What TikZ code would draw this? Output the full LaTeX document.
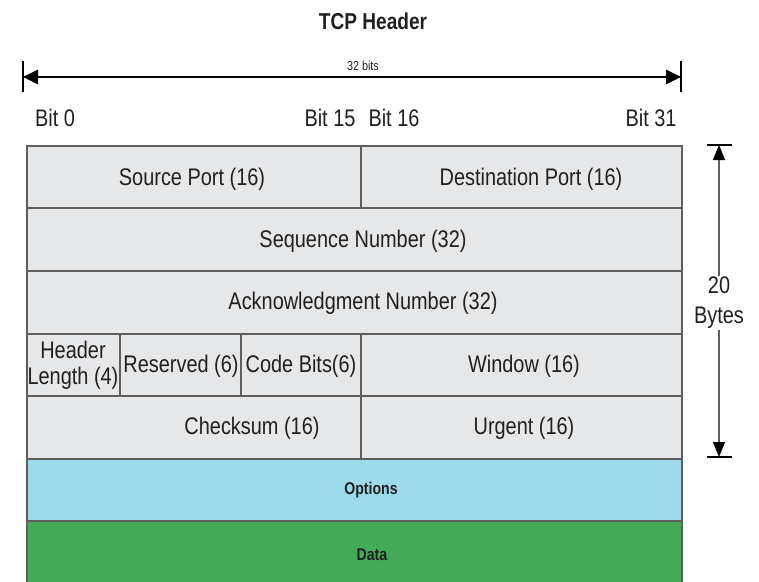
\documentclass[tikz,border=0pt]{standalone}
\usepackage{fontspec}
\setmainfont{Liberation Sans}[FakeStretch=0.83]
\usetikzlibrary{arrows.meta}

\definecolor{cellgray}{HTML}{E6E7E9}
\definecolor{gridline}{HTML}{5E5E5E}
\definecolor{optblue}{HTML}{9DDAEA}
\definecolor{datagreen}{HTML}{44AA58}
\definecolor{ink}{HTML}{202020}

\begin{document}
\begin{tikzpicture}[x=1pt,y=-1pt,
  cell/.style={draw=gridline, line width=1.4pt, fill=cellgray},
  optcell/.style={cell, fill=optblue},
  datacell/.style={cell, fill=datagreen},
  field/.style={text=ink, inner sep=0pt, align=center,
    font=\fontsize{24}{27}\selectfont},
  bitlbl/.style={field},
  smallbold/.style={text=ink, inner sep=0pt, font=\bfseries\fontsize{17}{19}\selectfont},
  tick/.style={line width=2.5pt, draw=black},
  widthtip/.style={{Triangle[length=15pt,width=14pt,color=black]}-{Triangle[length=15pt,width=14pt,color=black]}},
  heighttip/.style={{Triangle[length=15pt,width=12pt,color=black]}-{Triangle[length=15pt,width=12pt,color=black]}}
]
\useasboundingbox (0,0) rectangle (759,581);

% title
\node[text=ink, inner sep=0pt, font=\bfseries\fontsize{23}{26}\selectfont] (title) at (373,21) {TCP Header};

% 32-bit width marker
\coordinate (wL) at (23,77);
\coordinate (wR) at (681,77);
\draw[tick] ([yshift=-15pt]wL) -- ([yshift=16pt]wL);
\draw[tick] ([yshift=-15pt]wR) -- ([yshift=16pt]wR);
\draw[widthtip, line width=2.6pt, draw=black] (wL) -- (wR);
\node[text=ink, inner sep=0pt, font=\fontsize{13}{15}\selectfont] (bits) at (363,66) {32 bits};

% bit positions
\node[bitlbl] (bit0)  at (55,118)  {Bit 0};
\node[bitlbl] (bit15) at (330,118) {Bit 15};
\node[bitlbl] (bit16) at (394,118) {Bit 16};
\node[bitlbl] (bit31) at (651,118) {Bit 31};

% header rows
\path[cell] (27,146) rectangle (361,208);
\path[cell] (361,146) rectangle (682,208);
\path[cell] (27,208) rectangle (682,271);
\path[cell] (27,271) rectangle (682,334);
\path[cell] (27,334) rectangle (120,396);
\path[cell] (120,334) rectangle (241,396);
\path[cell] (241,334) rectangle (361,396);
\path[cell] (361,334) rectangle (682,396);
\path[cell] (27,396) rectangle (361,459);
\path[cell] (361,396) rectangle (682,459);
\path[optcell] (27,459) rectangle (682,521);
\path[datacell] (27,521) rectangle (682,585);

\node[field] (srcport) at (192,179) {Source Port (16)};
\node[field] (dstport) at (531,179) {Destination Port (16)};
\node[field] (seqnum)  at (363,241) {Sequence Number (32)};
\node[field] (acknum)  at (363,303) {Acknowledgment Number (32)};
\node[field, font=\fontsize{24}{26}\selectfont] (hlen) at (73,365) {Header\\Length (4)};
\node[field] (resv)    at (181,366) {Reserved (6)};
\node[field] (codebits) at (301,366) {Code Bits(6)};
\node[field] (window)  at (524,366) {Window (16)};
\node[field] (chksum)  at (252,428) {Checksum (16)};
\node[field] (urgent)  at (524,428) {Urgent (16)};
\node[smallbold] (options) at (371,490) {Options};
\node[smallbold] (data)    at (372,555) {Data};

% 20-byte height marker
\coordinate (hT) at (719,145);
\coordinate (hB) at (719,457);
\draw[tick] ([xshift=-12pt]hT) -- ([xshift=13pt]hT);
\draw[tick] ([xshift=-12pt]hB) -- ([xshift=13pt]hB);
\draw[heighttip, line width=1.4pt, draw=gridline] (hT) -- (hB);
\node[field, font=\fontsize{24}{30}\selectfont, fill=white, inner sep=1pt] (bytes) at (719,303) {20\\Bytes};
\end{tikzpicture}
\end{document}
